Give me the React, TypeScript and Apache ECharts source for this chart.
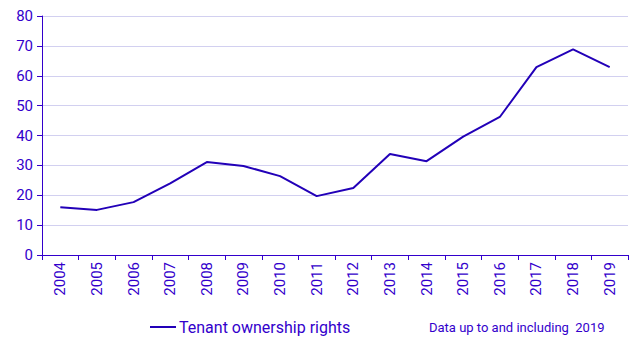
import React, { useEffect, useRef } from "react";
import * as echarts from "echarts";

const years = ["2004","2005","2006","2007","2008","2009","2010","2011","2012","2013","2014","2015","2016","2017","2018","2019"];
const tenantValues = [16.0, 15.1, 17.7, 24.0, 31.1, 29.8, 26.4, 19.7, 22.4, 33.8, 31.4, 39.6, 46.2, 62.9, 68.8, 62.9];
const seriesName = "Tenant ownership rights";
const footnote = "Data up to and including  2019";

const TEXT = "#3300cc";
const LINE = "#2200b8";
const FONT = "Roboto, 'Liberation Sans', Arial, sans-serif";

export default function App() {
  const ref = useRef<HTMLDivElement>(null);
  useEffect(() => {
    const chart = echarts.init(ref.current!, null, { renderer: "svg" });
    chart.setOption({
      animation: false,
      grid: { left: 42, right: 15, top: 16, bottom: 94, containLabel: false },
      xAxis: {
        type: "category",
        data: years,
        boundaryGap: true,
        axisLine: { lineStyle: { color: TEXT, width: 1 } },
        axisTick: { show: true, length: 5, lineStyle: { color: TEXT }, alignWithLabel: false },
        axisLabel: { rotate: 90, color: TEXT, fontSize: 15, fontFamily: FONT, margin: 7, interval: 0 },
      },
      yAxis: {
        type: "value",
        min: 0,
        max: 80,
        interval: 10,
        axisLine: { show: true, lineStyle: { color: TEXT, width: 1 } },
        axisTick: { show: true, length: 5, lineStyle: { color: TEXT } },
        axisLabel: { color: TEXT, fontSize: 15, fontFamily: FONT, margin: 9 },
        splitLine: { show: true, lineStyle: { color: "#d2d0f0", width: 1 } },
      },
      legend: {
        data: [{ name: seriesName, icon: "rect" }],
        left: 145,
        top: 314,
        itemWidth: 26,
        itemHeight: 2,
        itemGap: 4,
        textStyle: { color: TEXT, fontSize: 16, fontFamily: FONT, padding: [0, 0, 0, -2] },
      },
      graphic: [
        {
          type: "text",
          left: 429,
          top: 321,
          style: { text: footnote, fill: TEXT, fontSize: 13, fontFamily: FONT },
        },
      ],
      series: [
        {
          name: seriesName,
          type: "line",
          data: tenantValues,
          symbol: "none",
          lineStyle: { color: LINE, width: 2 },
          itemStyle: { color: LINE },
        },
      ],
    });
    return () => chart.dispose();
  }, []);
  return <div ref={ref} style={{ width: 643, height: 349, position: "absolute", left: 0, top: 0 }} />;
}
